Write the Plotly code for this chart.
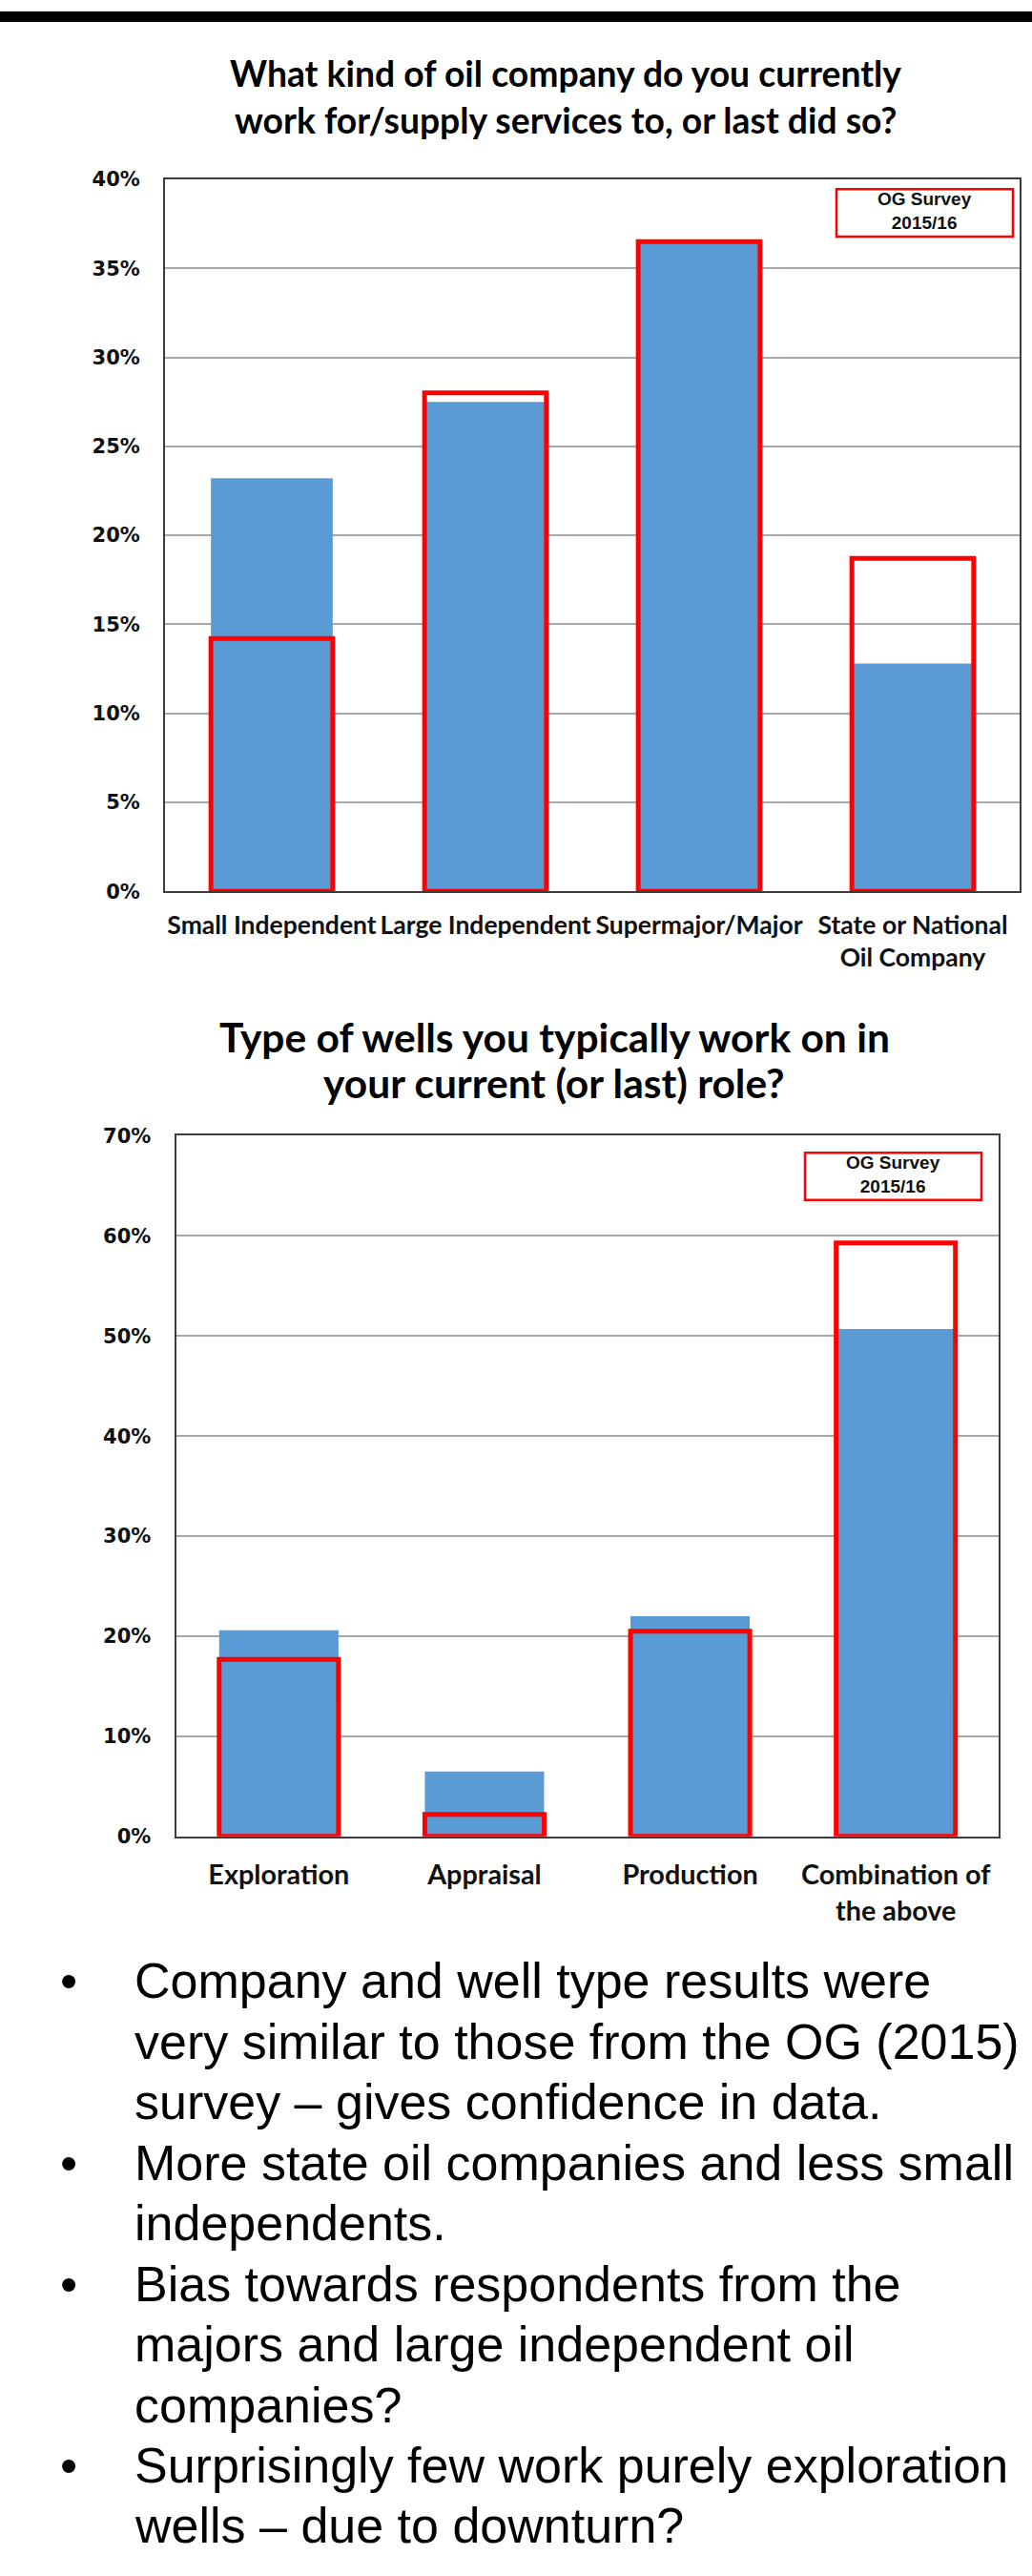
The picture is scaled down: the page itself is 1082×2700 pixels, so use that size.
import plotly.graph_objects as go

# ---- data -------------------------------------------------------------
company_types = ["Small Independent", "Large Independent", "Supermajor/Major",
                 "State or National<br>Oil Company"]
company_share = [0.232, 0.275, 0.365, 0.128]      # this survey
company_og = [0.142, 0.280, 0.365, 0.187]         # OG Survey 2015/16

well_types = ["Exploration", "Appraisal", "Production", "Combination of<br>the above"]
well_share = [0.206, 0.065, 0.220, 0.507]         # this survey
well_og = [0.177, 0.022, 0.205, 0.593]            # OG Survey 2015/16

title_company = ["What kind of oil company do you currently",
                 "work for/supply services to, or last did so?"]
title_wells = ["Type of wells you typically work on in",
               "your current (or last) role?"]

bullets = [
    ("•", "Company and well type results were"),
    ("", "very similar to those from the OG (2015)"),
    ("", "survey – gives confidence in data."),
    ("•", "More state oil companies and less small"),
    ("", "independents."),
    ("•", "Bias towards respondents from the"),
    ("", "majors and large independent oil"),
    ("", "companies?"),
    ("•", "Surprisingly few work purely exploration"),
    ("", "wells – due to downturn?"),
]

# ---- page geometry (pixels) -------------------------------------------
W, H = 1082, 2700
BLUE = "#5B9BD5"
RED = "#FF0000"
AXIS = "#3C3C3C"
GRID = "#A8A8A8"

LATO = "Lato, Open Sans, sans-serif"
TICK_FONT = dict(family="DejaVu Sans, Verdana, sans-serif", size=21, color="#111111", weight="bold")
BOX_FONT = dict(family="Liberation Sans, Arial, sans-serif", size=19, color="#111111", weight="bold")
BODY_FONT = dict(family="Liberation Sans, Arial, sans-serif", size=52, color="#000000")


def fx(x):
    return x / W


def fy(y):
    return 1 - y / H


fig = go.Figure()

# survey bars (filled) and OG survey outlines (red boxes)
for xa, ya, cats, vals, ref, bw in [
    ("x", "y", company_types, company_share, company_og, 0.57),
    ("x2", "y2", well_types, well_share, well_og, 0.58),
]:
    fig.add_trace(go.Bar(
        x=cats, y=vals, xaxis=xa, yaxis=ya, width=bw,
        marker=dict(color=BLUE, line=dict(width=0)),
        showlegend=False, hoverinfo="skip",
    ))
    fig.add_trace(go.Bar(
        x=cats, y=ref, xaxis=xa, yaxis=ya, width=bw,
        marker=dict(color="rgba(0,0,0,0)", line=dict(color=RED, width=5)),
        cliponaxis=False, showlegend=False, hoverinfo="skip",
    ))


def xaxis_cfg(x0, x1, anchor, fsize, standoff):
    return dict(
        domain=[fx(x0), fx(x1)], anchor=anchor, type="category",
        showline=True, mirror=True, linecolor=AXIS, linewidth=2,
        showgrid=False, ticks="",
        tickfont=dict(family=LATO, size=fsize, color="#111111", weight="bold"),
        ticklabelstandoff=standoff, fixedrange=True,
    )


def yaxis_cfg(top, bottom, anchor, rmax, step):
    return dict(
        domain=[fy(bottom), fy(top)], anchor=anchor,
        range=[0, rmax], dtick=step, tick0=0, tickformat=".0%",
        showline=True, mirror=True, linecolor=AXIS, linewidth=2,
        showgrid=True, gridcolor=GRID, gridwidth=1.5, zeroline=False,
        ticks="", tickfont=TICK_FONT, ticklabelstandoff=20, fixedrange=True,
    )


shapes = [
    # heavy rule across the top of the page
    dict(type="rect", xref="paper", yref="paper", x0=0, x1=1, y0=fy(11), y1=1,
         fillcolor="#000000", line=dict(width=0), layer="above"),
    # "OG Survey 2015/16" keys
    dict(type="rect", xref="paper", yref="paper", x0=fx(877), x1=fx(1062),
         y0=fy(238), y1=fy(188), fillcolor="white", line=dict(color=RED, width=2.5)),
    dict(type="rect", xref="paper", yref="paper", x0=fx(844), x1=fx(1029),
         y0=fy(1257), y1=fy(1207), fillcolor="white", line=dict(color=RED, width=2.5)),
]

annotations = [
    dict(xref="paper", yref="paper", x=fx(969.5), y=fy(211), xanchor="center", yanchor="middle",
         text="OG Survey<br>2015/16", showarrow=False, font=BOX_FONT),
    dict(xref="paper", yref="paper", x=fx(936.5), y=fy(1230), xanchor="center", yanchor="middle",
         text="OG Survey<br>2015/16", showarrow=False, font=BOX_FONT),
]

# chart titles, one annotation per line
for lines, cx, ys, size in [
    (title_company, 593, [65, 115], 37.3),
    (title_wells, 581, [1084, 1133], 42.5),
]:
    for line, yc in zip(lines, ys):
        annotations.append(dict(xref="paper", yref="paper", x=fx(cx), y=fy(yc),
                                xanchor="center", yanchor="middle", text=line,
                                showarrow=False,
                                font=dict(family=LATO, size=size, color="#000000", weight="bold")))

# bulleted notes below the charts
for i, (mark, line) in enumerate(bullets):
    yc = 2083 + 64.0 * i
    if mark:
        annotations.append(dict(xref="paper", yref="paper", x=fx(72), y=fy(yc),
                                xanchor="center", yanchor="middle", text=mark,
                                showarrow=False, font=BODY_FONT))
    annotations.append(dict(xref="paper", yref="paper", x=fx(139), y=fy(yc),
                            xanchor="left", yanchor="middle", text=line,
                            showarrow=False, font=BODY_FONT))

fig.update_layout(
    width=W, height=H, margin=dict(l=0, r=0, t=0, b=0),
    paper_bgcolor="white", plot_bgcolor="white",
    barmode="overlay",
    xaxis=xaxis_cfg(173, 1069, "y", 26.5, 11),
    yaxis=yaxis_cfg(177.5, 930.5, "x", 0.40, 0.05),
    xaxis2=xaxis_cfg(184.5, 1047, "y2", 28.8, 14),
    yaxis2=yaxis_cfg(1189, 1930, "x2", 0.70, 0.10),
    shapes=shapes, annotations=annotations,
)

fig.write_html("out.html")
